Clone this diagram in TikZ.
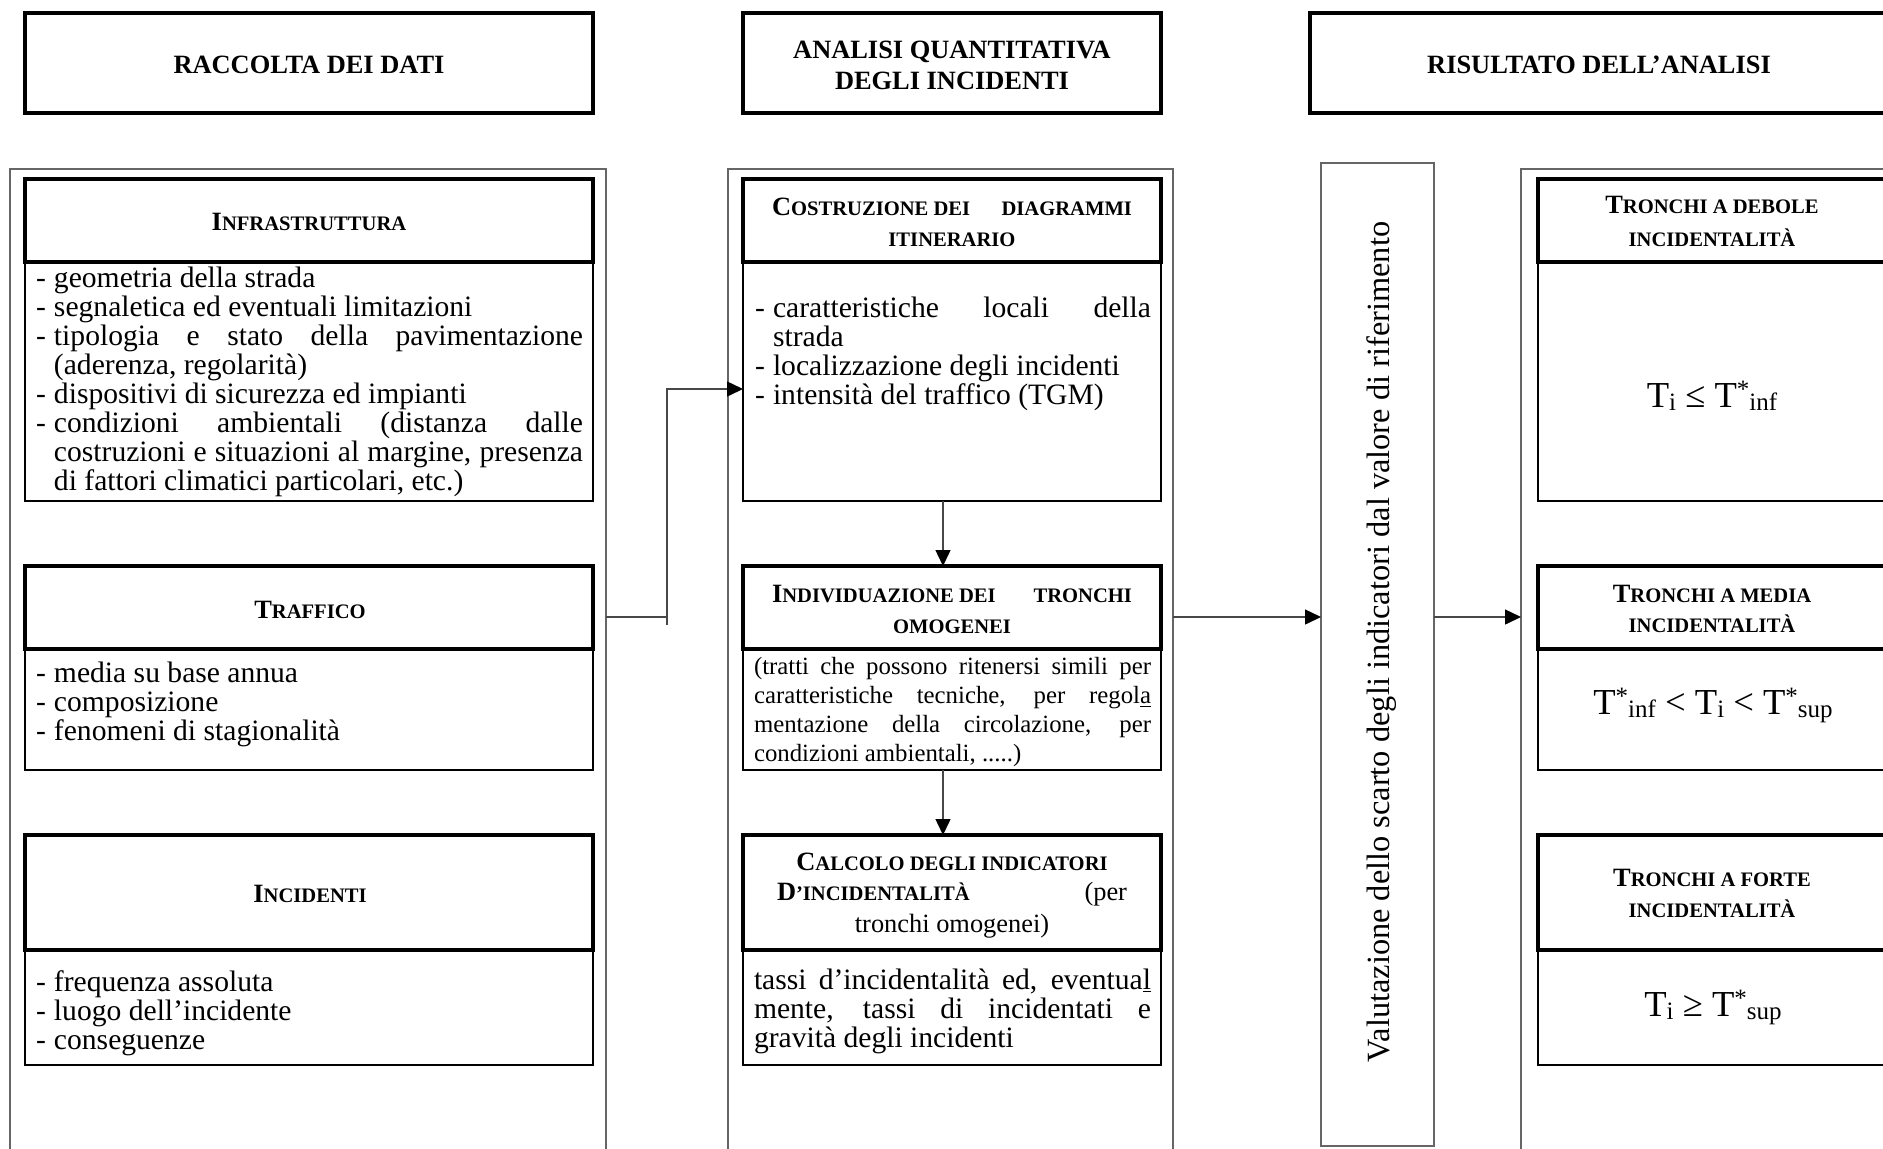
\documentclass[tikz,border=0pt]{standalone}
\usepackage{fontspec}
\setmainfont{Liberation Serif}[Ligatures={TeX,NoCommon}]
\usetikzlibrary{arrows.meta}
\newcommand\hdr{\fontsize{13.2}{15}\selectfont\bfseries}
\newcommand\smc[1]{{\fontsize{10.3}{12}\selectfont #1}}
\newcommand\bodyf{\fontsize{14.8}{14.5}\selectfont}
\newcommand\smallbodyf{\fontsize{12.4}{14.5}\selectfont}
\newcommand\fml{\fontsize{18.3}{20}\selectfont}
\newcommand\tlow[1]{\raisebox{-0.1em}{\fontsize{12.5}{12.5}\selectfont #1}}
\newcommand\tstar[1]{\raisebox{0.25em}{\fontsize{12.5}{12.5}\selectfont *}\tlow{#1}}
\newcommand\itm{\par\hangindent=9pt\hangafter=1\noindent\makebox[9pt][l]{-}}
\tikzset{
  outerframe/.style={draw=black!60, line width=0.6pt, inner sep=0pt, outer sep=0pt, anchor=north west},
  headbox/.style={draw=black, line width=1.8pt, inner sep=0pt, outer sep=0pt, anchor=north west},
  bodybox/.style={draw=black, line width=1.0pt, inner sep=0pt, outer sep=0pt, anchor=north west},
  conn/.style={draw=black!72, line width=0.7pt},
  arr/.style={conn, -{Triangle[length=8pt,width=7.5pt,color=black]}},
  txt/.style={inner sep=0pt, outer sep=0pt, anchor=base},
  para/.style={inner sep=0pt, outer sep=0pt, anchor=base west},
}
\begin{document}
\begin{tikzpicture}[x=0.5pt,y=-0.5pt]
\useasboundingbox (0,0) rectangle (1883,1148);
% outer frames
\node[outerframe, minimum width=298pt, minimum height=505pt] (lframe) at (10,169) {};
\node[outerframe, minimum width=222.5pt, minimum height=505pt] (mframe) at (728,169) {};
\node[outerframe, minimum width=200pt, minimum height=505pt] (rframe) at (1521,169) {};
\node[outerframe, minimum width=56.5pt, minimum height=491.5pt] (val) at (1321,163) {};
% top headers
\node[headbox, minimum width=284pt, minimum height=50pt] (h1) at (25,13) {};
\node[headbox, minimum width=209pt, minimum height=50pt] (h2) at (743,13) {};
\node[headbox, minimum width=300pt, minimum height=50pt] (h3) at (1310,13) {};
% left column
\node[bodybox, minimum width=284pt, minimum height=119.5pt] (lb1) at (25,262) {};
\node[headbox, minimum width=284pt, minimum height=41.5pt] (lh1) at (25,179) {};
\node[bodybox, minimum width=284pt, minimum height=60.5pt] (lb2) at (25,649) {};
\node[headbox, minimum width=284pt, minimum height=41.5pt] (lh2) at (25,566) {};
\node[bodybox, minimum width=284pt, minimum height=57.5pt] (lb3) at (25,950) {};
\node[headbox, minimum width=284pt, minimum height=57.5pt] (lh3) at (25,835) {};
% middle column
\node[bodybox, minimum width=209pt, minimum height=119.5pt] (mb1) at (743,262) {};
\node[headbox, minimum width=209pt, minimum height=41.5pt] (mh1) at (743,179) {};
\node[bodybox, minimum width=209pt, minimum height=60.5pt] (mb2) at (743,649) {};
\node[headbox, minimum width=209pt, minimum height=41.5pt] (mh2) at (743,566) {};
\node[bodybox, minimum width=209pt, minimum height=57.5pt] (mb3) at (743,950) {};
\node[headbox, minimum width=209pt, minimum height=57.5pt] (mh3) at (743,835) {};
% right column
\node[bodybox, minimum width=200pt, minimum height=119.5pt] (rb1) at (1538,262) {};
\node[headbox, minimum width=200pt, minimum height=41.5pt] (rh1) at (1538,179) {};
\node[bodybox, minimum width=200pt, minimum height=60.5pt] (rb2) at (1538,649) {};
\node[headbox, minimum width=200pt, minimum height=41.5pt] (rh2) at (1538,566) {};
\node[bodybox, minimum width=200pt, minimum height=57.5pt] (rb3) at (1538,950) {};
\node[headbox, minimum width=200pt, minimum height=57.5pt] (rh3) at (1538,835) {};
% connectors
\coordinate (j1) at (667,617);
\coordinate (j0) at (667,625);
\coordinate (j2) at (667,389);
\draw[conn] (lframe.east |- j1) -- (j1);
\draw[arr] (j0) -- (j2) -- (j2 -| mb1.west);
\draw[arr] ([xshift=-4.5pt]mb1.south) -- ([xshift=-4.5pt]mh2.north);
\draw[arr] ([xshift=-4.5pt]mb2.south) -- ([xshift=-4.5pt]mh3.north);
\draw[arr] (mframe.east |- j1) -- (val.west |- j1);
\draw[arr] (val.east |- j1) -- (rframe.west |- j1);
% top header texts
\node[txt] (t1) at (309,73) {\hdr RACCOLTA DEI DATI};
\node[txt] (t2a) at (952,58) {\hdr ANALISI QUANTITATIVA};
\node[txt] (t2b) at (952,89) {\hdr DEGLI INCIDENTI};
\node[txt] (t3) at (1599,73) {\hdr RISULTATO DELL’ANALISI};
% left column texts
\node[txt] (lt1) at (309,230) {\hdr I\smc{NFRASTRUTTURA}};
\node[txt] (lt2) at (310,618) {\hdr T\smc{RAFFICO}};
\node[txt] (lt3) at (310,902) {\hdr I\smc{NCIDENTI}};
\node[para] (lp1) at (36,287) {\parbox[t]{273.5pt}{\bodyf
\itm geometria della strada
\itm segnaletica ed eventuali limitazioni
\itm tipologia e stato della pavimentazione\linebreak (aderenza, regolarità)
\itm dispositivi di sicurezza ed impianti
\itm condizioni ambientali (distanza dalle\linebreak costruzioni e situazioni al margine, presenza\linebreak di fattori climatici particolari, etc.)}};
\node[para] (lp2) at (36,682) {\parbox[t]{273.5pt}{\bodyf
\itm media su base annua
\itm composizione
\itm fenomeni di stagionalità}};
\node[para] (lp3) at (36,991) {\parbox[t]{273.5pt}{\bodyf
\itm frequenza assoluta
\itm luogo dell’incidente
\itm conseguenze}};
% middle column texts
\node[txt] (mt1a) at (952,215) {\hdr\makebox[180pt]{C\smc{OSTRUZIONE DEI}\hfill\smc{DIAGRAMMI}}};
\node[txt] (mt1b) at (952,246) {\hdr\smc{ITINERARIO}};
\node[para] (mp1) at (755,317) {\parbox[t]{198pt}{\bodyf
\itm caratteristiche locali della\linebreak strada
\itm localizzazione degli incidenti
\itm intensità del traffico (TGM)}};
\node[txt] (mt2a) at (952,602) {\hdr\makebox[180pt]{I\smc{NDIVIDUAZIONE DEI}\hfill\smc{TRONCHI}}};
\node[txt] (mt2b) at (952,633) {\hdr\smc{OMOGENEI}};
\node[para] (mp2) at (754,674) {\parbox[t]{198.5pt}{\smallbodyf\noindent
(tratti che possono ritenersi simili per\linebreak caratteristiche tecniche, per regol\underline{a}\linebreak mentazione della circolazione, per\linebreak condizioni ambientali, .....)}};
\node[txt] (mt3a) at (952,870) {\hdr C\smc{ALCOLO DEGLI INDICATORI}};
\node[txt] (mt3b) at (952,900) {\hdr\makebox[175pt]{D\smc{’INCIDENTALITÀ}\hfill\mdseries (per}};
\node[txt] (mt3c) at (952,932) {\fontsize{13.2}{15}\selectfont tronchi omogenei)};
\node[para] (mp3) at (754,989) {\parbox[t]{198.5pt}{\bodyf\noindent
tassi d’incidentalità ed, eventua\underline{l}\linebreak mente, tassi di incidentati e\linebreak gravità degli incidenti}};
% vertical text
\node[txt, rotate=90] (vt) at (1389,642) {\fontsize{16.2}{18}\selectfont Valutazione dello scarto degli indicatori dal valore di riferimento};
% right column texts
\node[txt] (rt1a) at (1712,213) {\hdr T\smc{RONCHI A DEBOLE}};
\node[txt] (rt1b) at (1712,246) {\hdr\smc{INCIDENTALITÀ}};
\node[txt] (rf1) at (1712,407) {\fml T\tlow{i} ≤ T\tstar{inf}};
\node[txt] (rt2a) at (1712,602) {\hdr T\smc{RONCHI A MEDIA}};
\node[txt] (rt2b) at (1712,632) {\hdr\smc{INCIDENTALITÀ}};
\node[txt] (rf2) at (1713,714) {\fml T\tstar{inf} < T\tlow{i} < T\tstar{sup}};
\node[txt] (rt3a) at (1712,886) {\hdr T\smc{RONCHI A FORTE}};
\node[txt] (rt3b) at (1712,917) {\hdr\smc{INCIDENTALITÀ}};
\node[txt] (rf3) at (1713,1016) {\fml T\tlow{i} ≥ T\tstar{sup}};
\end{tikzpicture}
\end{document}
